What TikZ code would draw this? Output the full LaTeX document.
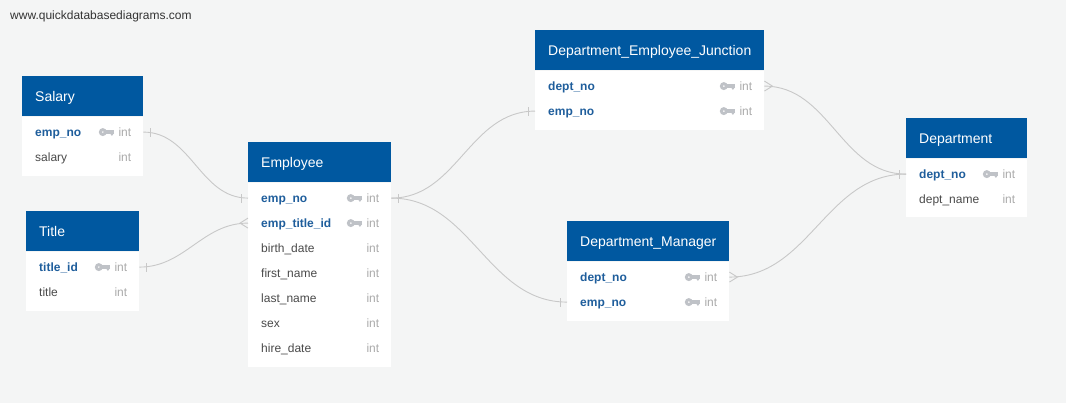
\documentclass[tikz,border=0pt]{standalone}
\usepackage{fontspec}
\setmainfont{Liberation Sans}
\definecolor{canvas}{HTML}{F4F5F5}
\definecolor{headblue}{HTML}{0058A0}
\definecolor{keyblue}{HTML}{1F5E9C}
\definecolor{plaintext}{HTML}{4A4A4A}
\definecolor{typetext}{HTML}{ABABAB}
\definecolor{keygray}{HTML}{BFC2C7}
\definecolor{relline}{HTML}{C8C8C8}
\definecolor{sitetext}{HTML}{333333}

\tikzset{
  tblhead/.style={rectangle, fill=headblue, minimum height=40, inner sep=0, anchor=north west},
  tbltitle/.style={text=white, font=\fontsize{14}{16}\selectfont, inner sep=0, anchor=mid west},
  tblbody/.style={rectangle, fill=white, inner sep=0, anchor=north west},
  tblrow/.style={rectangle, minimum height=25, inner sep=0, anchor=north west},
  keyname/.style={text=keyblue, font=\fontsize{12}{14}\selectfont\bfseries, inner sep=0, anchor=mid west},
  plainname/.style={text=plaintext, font=\fontsize{12}{14}\selectfont, inner sep=0, anchor=mid west},
  typename/.style={text=typetext, font=\fontsize{12}{14}\selectfont, inner sep=0, anchor=mid east},
  sitelabel/.style={text=sitetext, font=\fontsize{12}{14}\selectfont, inner sep=0, anchor=mid west},
  rel/.style={draw=relline, line width=0.9},
  keyicon/.pic={
    \fill[keygray, even odd rule] (-3.6,0) circle (4) (-3.6,0) circle (1.1);
    \fill[keygray] (-0.5,-1.7) rectangle (7.6,1.5);
    \fill[keygray] (3.4,1) -- (7.6,1) -- (5.5,3.8) -- cycle;
  }
}

% table: id, x, y, width, title, body height
\newcommand\ertable[6]{%
  \def\erwidth{#4}%
  \node[tblhead, minimum width=#4] (#1) at (#2,#3) {};
  \node[tbltitle] (#1-title) at ([xshift=13,yshift=-2.5]#1.west) {#5};
  \node[tblbody, minimum width=#4, minimum height=#6] (#1-body) at (#1.south west) {};
}
% row: table id, row id, index, field name, name style
\newcommand\errow[5]{%
  \node[tblrow, minimum width=\erwidth] (#2) at ([yshift={-3-25*#3}]#1-body.north west) {};
  \node[#5] (#2-name) at ([xshift=13,yshift=-1.5]#2.west) {#4};
  \node[typename] (#2-type) at ([xshift=-12,yshift=-1.5]#2.east) {int};
}
% primary/foreign key row
\newcommand\erkeyrow[4]{%
  \errow{#1}{#2}{#3}{#4}{keyname}
  \pic at ([xshift=-37]#2.east) {keyicon};
}
% one-side tick and many-side crow's foot
\newcommand\tickright[1]{\draw[rel] ([xshift=7,yshift=-4.5]#1.east) -- ([xshift=7,yshift=4.5]#1.east);}
\newcommand\tickleft[1]{\draw[rel] ([xshift=-7,yshift=-4.5]#1.west) -- ([xshift=-7,yshift=4.5]#1.west);}
\newcommand\crowright[1]{\draw[rel] ([yshift=-5]#1.east) -- ([xshift=8]#1.east) -- ([yshift=5]#1.east);}
\newcommand\crowleft[1]{\draw[rel] ([yshift=-5]#1.west) -- ([xshift=-8]#1.west) -- ([yshift=5]#1.west);}

\begin{document}
\begin{tikzpicture}[x=1pt, y=-1pt]
  \fill[canvas] (0,0) rectangle (1066,403);
  \useasboundingbox (0,0) rectangle (1066,403);

  \node[sitelabel] (site) at (10,17) {www.quickdatabasediagrams.com};

  % Salary
  \ertable{sal}{22}{76}{121}{Salary}{59}
  \erkeyrow{sal}{sal-emp}{0}{emp\_no}
  \errow{sal}{sal-salary}{1}{salary}{plainname}

  % Title
  \ertable{ttl}{26}{211}{113}{Title}{59}
  \erkeyrow{ttl}{ttl-id}{0}{title\_id}
  \errow{ttl}{ttl-title}{1}{title}{plainname}

  % Employee
  \ertable{emp}{248}{142}{143}{Employee}{184}
  \erkeyrow{emp}{emp-no}{0}{emp\_no}
  \erkeyrow{emp}{emp-title}{1}{emp\_title\_id}
  \errow{emp}{emp-birth}{2}{birth\_date}{plainname}
  \errow{emp}{emp-first}{3}{first\_name}{plainname}
  \errow{emp}{emp-last}{4}{last\_name}{plainname}
  \errow{emp}{emp-sex}{5}{sex}{plainname}
  \errow{emp}{emp-hire}{6}{hire\_date}{plainname}

  % Department_Employee_Junction
  \ertable{dej}{535}{30}{229}{Department\_Employee\_Junction}{59}
  \erkeyrow{dej}{dej-dept}{0}{dept\_no}
  \erkeyrow{dej}{dej-emp}{1}{emp\_no}

  % Department_Manager
  \ertable{dm}{567}{221}{162}{Department\_Manager}{59}
  \erkeyrow{dm}{dm-dept}{0}{dept\_no}
  \erkeyrow{dm}{dm-emp}{1}{emp\_no}

  % Department
  \ertable{dep}{906}{118}{121}{Department}{58}
  \erkeyrow{dep}{dep-no}{0}{dept\_no}
  \errow{dep}{dep-name}{1}{dept\_name}{plainname}

  % relationships
  \draw[rel] (sal-emp.east) to[out=0, in=180] (emp-no.west);
  \tickright{sal-emp}
  \tickleft{emp-no}

  \draw[rel] (ttl-id.east) to[out=0, in=180] (emp-title.west);
  \tickright{ttl-id}
  \crowleft{emp-title}

  \draw[rel] (emp-no.east) to[out=0, in=180] (dej-emp.west);
  \draw[rel] (emp-no.east) to[out=0, in=180] (dm-emp.west);
  \tickright{emp-no}
  \tickleft{dej-emp}
  \tickleft{dm-emp}

  \draw[rel] (dej-dept.east) to[out=0, in=180] (dep-no.west);
  \draw[rel] (dm-dept.east) to[out=0, in=180] (dep-no.west);
  \crowright{dej-dept}
  \crowright{dm-dept}
  \tickleft{dep-no}
\end{tikzpicture}
\end{document}
